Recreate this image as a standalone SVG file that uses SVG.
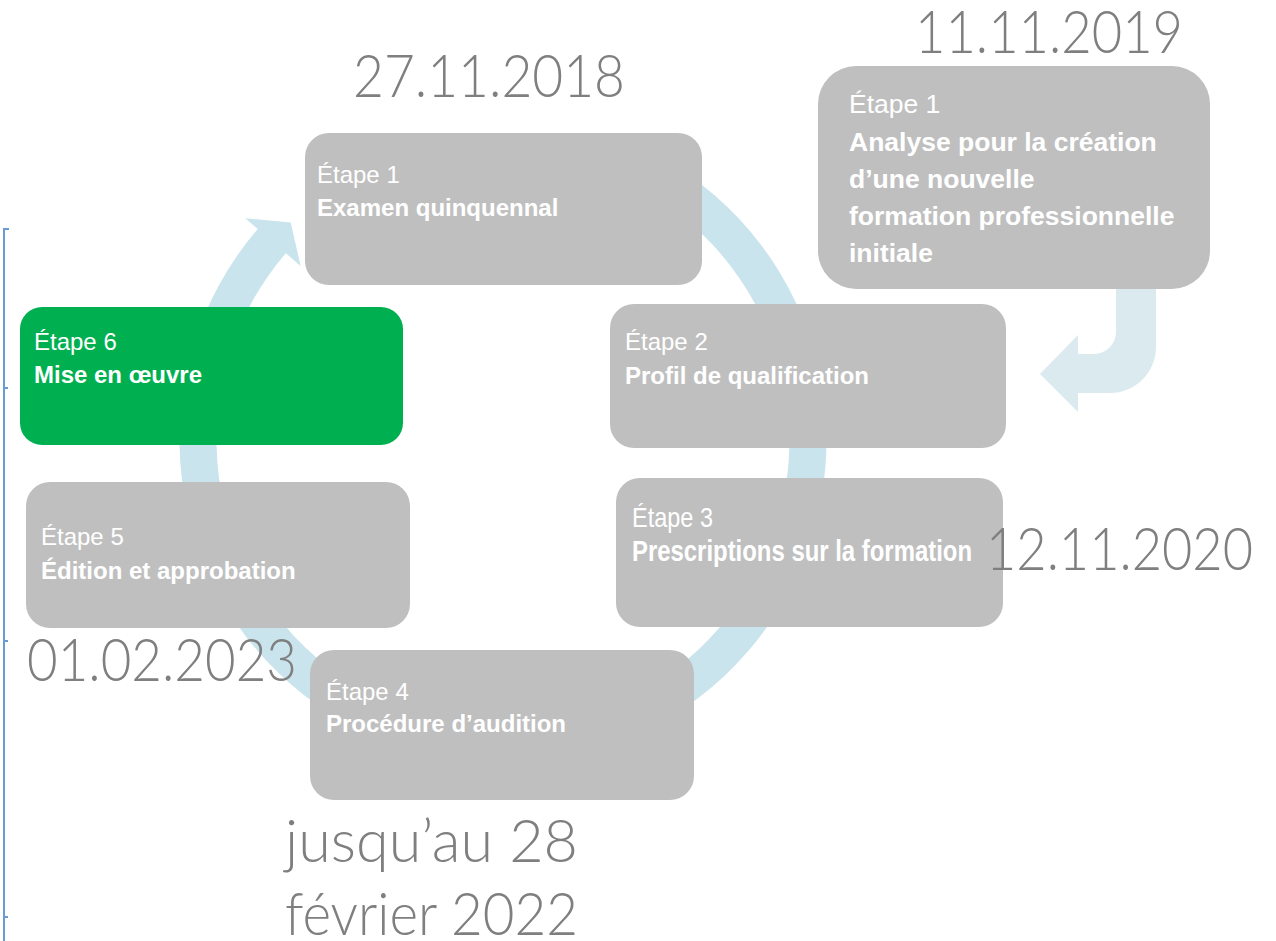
<svg xmlns="http://www.w3.org/2000/svg" width="1276" height="941" viewBox="0 0 1276 941">
  <style>
    .box { fill: #bfbfbf; }
    .green { fill: #00b050; }
    .lbl { font-family: "Liberation Sans", Arial, sans-serif; font-size: 24px; fill: #ffffff; }
    .b { font-weight: bold; }
    .big { font-size: 26.5px; }
    .date { font-family: Lato, "Open Sans", "Liberation Sans", sans-serif; font-weight: 300; font-size: 60px; fill: #7f7f7f; }
    .edge { stroke: #6a9bd3; stroke-width: 2; fill: none; }
  </style>
  <rect width="1276" height="941" fill="#ffffff"/>

  <g id="frame">
    <line class="edge" x1="4" y1="228" x2="4" y2="941"/>
    <line class="edge" x1="3" y1="229" x2="9" y2="229"/>
    <line class="edge" x1="4" y1="388" x2="8" y2="388"/>
    <line class="edge" x1="4" y1="641" x2="8" y2="641"/>
    <line class="edge" x1="4" y1="917" x2="8" y2="917"/>
  </g>

  <g id="connectors">
    <path id="cycle-arrow" fill="#c9e4ec" d="M 629.4 142.2 A 323.5 323.5 0 1 1 257.8 229.0 L 245.2 218.3 L 290.7 222.4 L 300.6 265.9 L 285.8 253.2 A 286.5 286.5 0 1 0 614.9 176.3 Z"/>
    <path id="entry-arrow" fill="#dbeaef" d="M 1116 280 L 1156 280 L 1156 347 A 46 46 0 0 1 1110 393 L 1078 393 L 1078 412 L 1040 374 L 1078 335 L 1078 354 L 1094 354 A 22 22 0 0 0 1116 332 Z"/>
  </g>

  <g id="step1-review">
    <rect class="box" x="305" y="133" width="397" height="152" rx="24"/>
    <text class="lbl" x="317" y="183">Étape 1</text>
    <text class="lbl b" x="317" y="216">Examen quinquennal</text>
  </g>

  <g id="step1-new">
    <rect class="box" x="818" y="66" width="392" height="223" rx="38"/>
    <text class="lbl big" x="849" y="113">Étape 1</text>
    <text class="lbl b big" x="849" y="151">Analyse pour la création</text>
    <text class="lbl b big" x="849" y="188">d’une nouvelle</text>
    <text class="lbl b big" x="849" y="225">formation professionnelle</text>
    <text class="lbl b big" x="849" y="262">initiale</text>
  </g>

  <g id="step2">
    <rect class="box" x="610" y="304" width="396" height="144" rx="24"/>
    <text class="lbl" x="625" y="350">Étape 2</text>
    <text class="lbl b" x="625" y="384">Profil de qualification</text>
  </g>

  <g id="step3">
    <rect class="box" x="616" y="478" width="387" height="149" rx="24"/>
    <text class="lbl" x="632" y="527" style="font-size:28px" textLength="81" lengthAdjust="spacingAndGlyphs">Étape 3</text>
    <text class="lbl b" x="632" y="561" style="font-size:29px" textLength="340" lengthAdjust="spacingAndGlyphs">Prescriptions sur la formation</text>
  </g>

  <g id="step4">
    <rect class="box" x="310" y="650" width="384" height="150" rx="24"/>
    <text class="lbl" x="326" y="700">Étape 4</text>
    <text class="lbl b" x="326" y="732">Procédure d’audition</text>
  </g>

  <g id="step5">
    <rect class="box" x="26" y="482" width="384" height="146" rx="24"/>
    <text class="lbl" x="41" y="545">Étape 5</text>
    <text class="lbl b" x="41" y="579">Édition et approbation</text>
  </g>

  <g id="step6">
    <rect class="green" x="20" y="307" width="383" height="138" rx="22"/>
    <text class="lbl" x="34" y="350">Étape 6</text>
    <text class="lbl b" x="34" y="383">Mise en œuvre</text>
  </g>

  <g id="dates">
    <text class="date" x="353" y="97" textLength="272" lengthAdjust="spacingAndGlyphs">27.11.2018</text>
    <text class="date" x="915" y="53" textLength="268" lengthAdjust="spacingAndGlyphs">11.11.2019</text>
    <text class="date" x="986" y="570" textLength="267" lengthAdjust="spacingAndGlyphs">12.11.2020</text>
    <text class="date" x="27" y="681" textLength="270" lengthAdjust="spacingAndGlyphs">01.02.2023</text>
    <text class="date" x="285" y="862" textLength="293" lengthAdjust="spacingAndGlyphs">jusqu’au 28</text>
    <text class="date" x="285" y="935" textLength="293" lengthAdjust="spacingAndGlyphs">février 2022</text>
  </g>
</svg>
